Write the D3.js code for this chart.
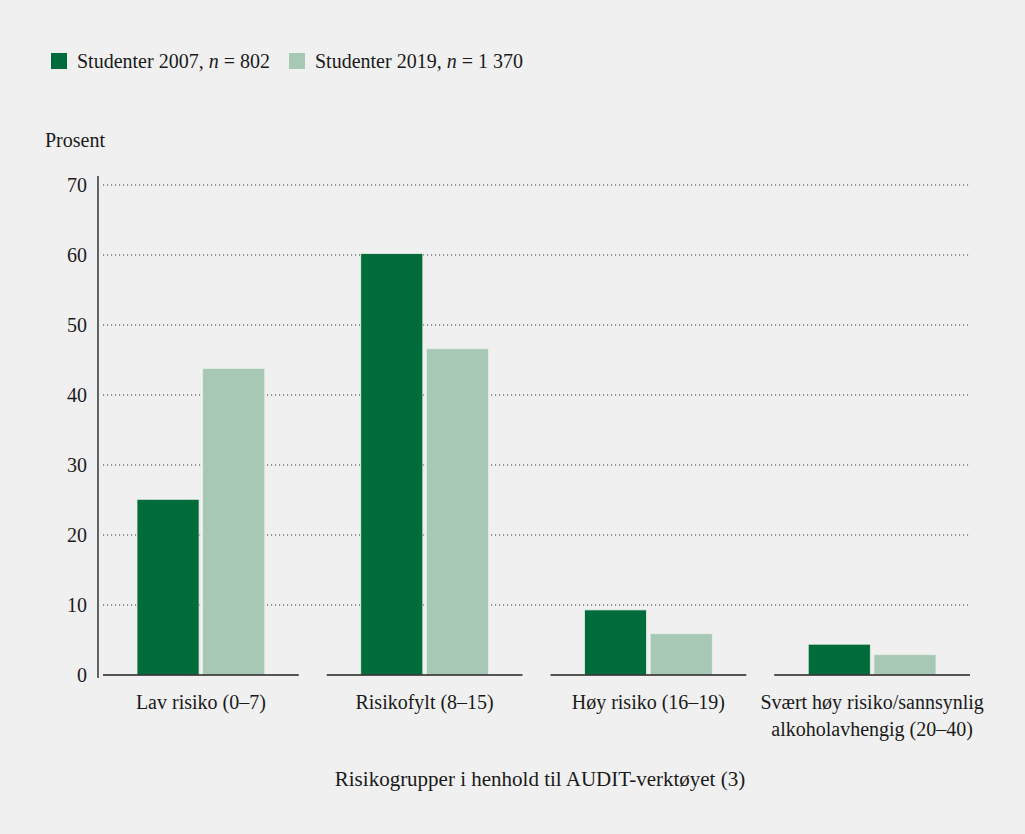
<!DOCTYPE html>
<html><head><meta charset="utf-8">
<script src="https://cdn.jsdelivr.net/npm/d3@7"></script>
<style>
html,body{margin:0;padding:0;background:#f0f0f0;}
svg{display:block;font-family:"Liberation Serif","DejaVu Serif",serif;}
</style></head>
<body><svg id="chart" width="1025" height="834"></svg>
<script>
const categories = [["Lav risiko (0–7)"], ["Risikofylt (8–15)"], ["Høy risiko (16–19)"], ["Svært høy risiko/sannsynlig", "alkoholavhengig (20–40)"]];
const seriesNames = ["Studenter 2007", "Studenter 2019"];
const seriesN = ["802", "1 370"];
const values2007 = [25.1, 60.2, 9.3, 4.4];
const values2019 = [43.8, 46.6, 5.9, 2.9];
const yTicks = [0, 10, 20, 30, 40, 50, 60, 70];
const colors = ["#006c3b", "#a6c8b4"];
const yTitle = "Prosent";
const xTitle = "Risikogrupper i henhold til AUDIT-verktøyet (3)";

const svg = d3.select("#chart");
svg.append("rect").attr("width",1025).attr("height",834).attr("fill","#f0f0f0");

const y = d3.scaleLinear().domain([0,70]).range([675,185]);
const x = d3.scaleBand().domain(categories.map((d,i)=>i)).range([103,970]).paddingInner(0.125).paddingOuter(0);
const inner = d3.scaleBand().domain([0,1]).range([34, x.bandwidth()-34]).paddingInner(0.055);

// gridlines
svg.append("g").selectAll("line").data(yTicks.filter(d=>d>0)).join("line")
  .attr("x1",103).attr("x2",970).attr("y1",d=>y(d)).attr("y2",d=>y(d))
  .attr("stroke","#333").attr("stroke-width",1.1).attr("stroke-dasharray","1.1,2.9");

// y axis
const yAxis = d3.axisLeft(y).tickValues(yTicks).tickSize(0).tickPadding(11);
const ga = svg.append("g").attr("transform","translate(98,0)").call(yAxis);
ga.select(".domain").remove();
ga.selectAll("text").attr("font-size",20).attr("fill","#1a1a1a").attr("font-family","Liberation Serif, serif");
svg.append("line").attr("x1",98).attr("x2",98).attr("y1",176).attr("y2",678).attr("stroke","#333").attr("stroke-width",1.5);

// bars
const data = [values2007, values2019];
data.forEach((vals,s)=>{
  svg.append("g").selectAll("rect").data(vals).join("rect")
    .attr("x",(d,i)=>x(i)+inner(s)).attr("width",inner.bandwidth())
    .attr("y",d=>y(d)).attr("height",d=>y(0)-y(d))
    .attr("fill",colors[s]).attr("stroke","#e8efe9").attr("stroke-width",0.8);
});

// baselines per category
svg.append("g").selectAll("line").data(categories.map((d,i)=>i)).join("line")
  .attr("x1",d=>x(d)).attr("x2",d=>x(d)+x.bandwidth()).attr("y1",y(0)).attr("y2",y(0))
  .attr("stroke","#222").attr("stroke-width",1.5);

// category labels
categories.forEach((lines,i)=>{
  const t = svg.append("text").attr("text-anchor","middle").attr("font-size",20).attr("fill","#1a1a1a");
  lines.forEach((l,j)=>t.append("tspan").attr("x",x(i)+x.bandwidth()/2).attr("y",709+j*27).text(l));
});

// titles
svg.append("text").attr("x",45).attr("y",147).attr("font-size",20).attr("fill","#1a1a1a").text(yTitle);
svg.append("text").attr("x",540).attr("y",786).attr("text-anchor","middle").attr("font-size",21).attr("fill","#1a1a1a").text(xTitle);

// legend
const legX = [51, 289];
seriesNames.forEach((name,s)=>{
  svg.append("rect").attr("x",legX[s]).attr("y",53).attr("width",16).attr("height",16).attr("fill",colors[s]);
  const t = svg.append("text").attr("x",legX[s]+26).attr("y",68).attr("font-size",20).attr("fill","#1a1a1a");
  t.append("tspan").text(name+", ");
  t.append("tspan").attr("font-style","italic").text("n");
  t.append("tspan").text(" = "+seriesN[s]);
});
</script></body></html>
